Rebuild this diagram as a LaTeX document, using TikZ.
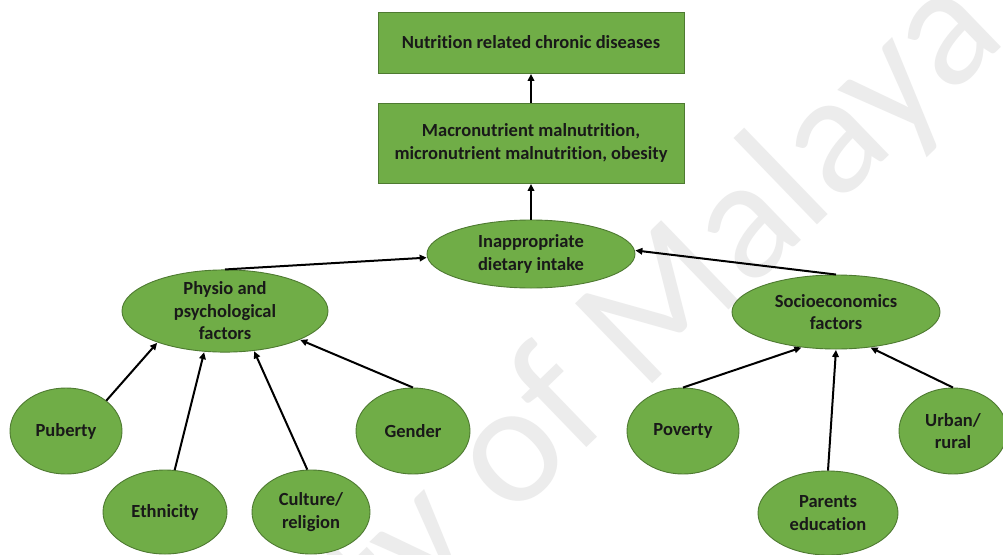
\documentclass[tikz,border=0pt]{standalone}
\usepackage{fontspec}
\setmainfont{Carlito}[Ligatures=NoCommon]
\usetikzlibrary{shapes.geometric,arrows.meta}
\definecolor{leaf}{HTML}{70AD47}
\definecolor{leafedge}{HTML}{4E7A31}
\definecolor{wmark}{HTML}{ECECEC}
\tikzset{
  txt/.style={font=\bfseries\fontsize{18.5}{22.5}\selectfont, text=black!90, align=center, inner sep=0pt},
  box/.style={txt, rectangle, draw=leafedge, fill=leaf, line width=0.9pt, minimum width=306pt},
  oval/.style={txt, ellipse, draw=leafedge, fill=leaf, line width=0.9pt},
  arr/.style={line width=2pt, -{Triangle[length=7pt,width=6.5pt]}, shorten >=0.5pt}
}
\begin{document}
\begin{tikzpicture}[x=1pt,y=-1pt]
\useasboundingbox (0,0) rectangle (1003,554);
\fill[white] (0,0) rectangle (1003,554);
\begin{scope}
\clip (0,0) rectangle (1003,554);
\node[rotate=44, text=wmark, font=\fontsize{173}{173}\selectfont, anchor=base east, inner sep=0pt] (wm) at (1009,40) {University of Malaya};
\end{scope}

% outcome boxes
\node[box, minimum height=61pt] (chronic) at (531,42.5) {Nutrition related chronic diseases};
\node[box, minimum height=80pt] (malnut) at (531,143) {Macronutrient malnutrition,\\ micronutrient malnutrition, obesity};

% central and group factors
\node[oval, minimum width=208pt, minimum height=68pt] (intake) at (531,254) {Inappropriate\\ dietary intake};
\node[oval, minimum width=206pt, minimum height=74pt] (physio) at (225,311) {Physio and\\ psychological\\ factors};
\node[oval, minimum width=208pt, minimum height=74pt] (socio) at (836,312) {Socioeconomics\\ factors};

% individual factors
\node[oval, minimum width=112pt, minimum height=86pt] (puberty) at (66,431) {Puberty};
\node[oval, minimum width=124pt, minimum height=84pt] (ethnic) at (165,512) {Ethnicity};
\node[oval, minimum width=118pt, minimum height=84pt] (culture) at (311,512) {Culture/\\ religion};
\node[oval, minimum width=114pt, minimum height=86pt] (gender) at (413,431) {Gender};
\node[oval, minimum width=112pt, minimum height=86pt] (poverty) at (683,431) {Poverty};
\node[oval, minimum width=140pt, minimum height=84pt] (parents) at (828,513) {Parents\\ education};
\node[oval, minimum width=108pt, minimum height=86pt] (urban) at (953,431) {Urban/\\ rural};

% connectors
\draw[arr] (malnut.north) -- (chronic.south);
\draw[arr] (intake.north) -- (malnut.south);
\draw[arr] (physio.north) -- (intake.182);
\draw[arr] (socio.north) -- (intake.2);
\draw[arr] (puberty.37) -- (physio.205);
\draw[arr] (ethnic.77) -- (physio.243);
\draw[arr] (culture.95) -- (physio.306);
\draw[arr] (gender.north) -- (physio.339);
\draw[arr] (poverty.north) -- (socio.226);
\draw[arr] (parents.north) -- (socio.south);
\draw[arr] (urban.north) -- (socio.314);
\end{tikzpicture}
\end{document}
